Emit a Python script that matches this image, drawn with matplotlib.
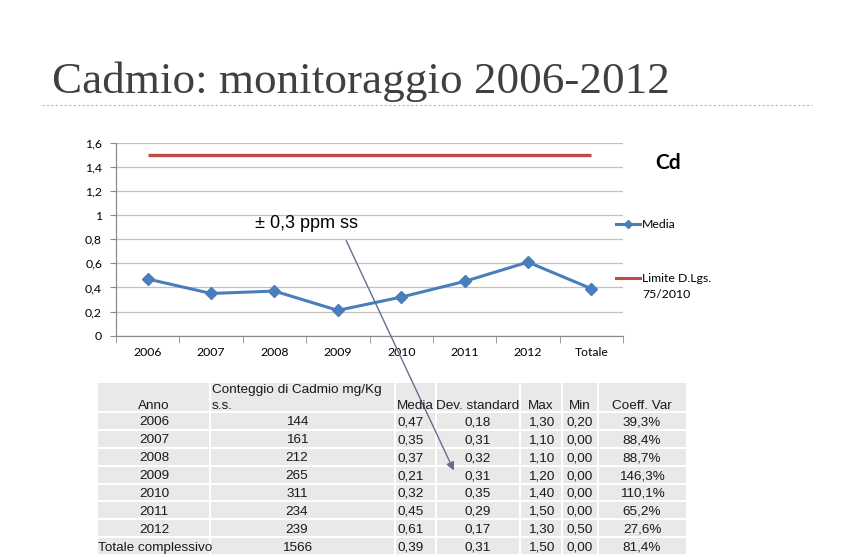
import matplotlib
matplotlib.use("Agg")
import matplotlib.pyplot as plt
from matplotlib.patches import Rectangle

# ---- data ----
categorie = ["2006", "2007", "2008", "2009", "2010", "2011", "2012", "Totale"]
media_cd = [0.47, 0.35, 0.37, 0.21, 0.32, 0.45, 0.61, 0.39]
limite_dlgs = 1.5

anni = ["2006", "2007", "2008", "2009", "2010", "2011", "2012", "Totale complessivo"]
conteggio = [144, 161, 212, 265, 311, 234, 239, 1566]
media_tab = [0.47, 0.35, 0.37, 0.21, 0.32, 0.45, 0.61, 0.39]
dev_std = [0.18, 0.31, 0.32, 0.31, 0.35, 0.29, 0.17, 0.31]
val_max = [1.30, 1.10, 1.10, 1.20, 1.40, 1.50, 1.30, 1.50]
val_min = [0.20, 0.00, 0.00, 0.00, 0.00, 0.00, 0.50, 0.00]
coeff_var = [39.3, 88.4, 88.7, 146.3, 110.1, 65.2, 27.6, 81.4]

BLUE = "#4a7ebb"
RED = "#be4b48"
GRID = "#c0c0c0"
AXIS = "#8c8c8c"
CHART_FONT = "Lato"
TABLE_FONT = "Liberation Sans"

W, H = 842, 557


def it(v, fmt="{:.2f}"):
    return fmt.format(v).replace(".", ",")


fig = plt.figure(figsize=(W / 100, H / 100), dpi=100)
fig.patch.set_facecolor("white")

# ---- chart ----
ax = fig.add_axes([116 / W, (H - 335.7) / H, (623 - 116) / W, (335.7 - 142.7) / H])
x = list(range(len(categorie)))
ax.plot(x, [limite_dlgs] * len(x), color=RED, lw=2.4, solid_capstyle="butt", zorder=3)
ax.plot(x, media_cd, color=BLUE, lw=2.2, marker="D", ms=6, mec=BLUE, mfc=BLUE, zorder=4)
ax.set_xlim(-0.5, len(x) - 0.5)
ax.set_ylim(0, 1.6)
yt = [0, 0.2, 0.4, 0.6, 0.8, 1.0, 1.2, 1.4, 1.6]
ax.set_yticks(yt)
ax.set_yticklabels([("%g" % v).replace(".", ",") for v in yt], fontsize=8.8, family=CHART_FONT)
ax.set_xticks(x)
ax.set_xticklabels(categorie, fontsize=8.8, family=CHART_FONT)
ax.set_xticks([i - 0.5 for i in range(len(x) + 1)], minor=True)
ax.tick_params(axis="x", which="major", length=0, pad=8)
ax.tick_params(axis="x", which="minor", length=5, color=AXIS, direction="out")
ax.tick_params(axis="y", length=4, color=AXIS, pad=6)
ax.grid(axis="y", color=GRID, lw=0.9)
ax.set_axisbelow(True)
for s in ["top", "right"]:
    ax.spines[s].set_visible(False)
for s in ["left", "bottom"]:
    ax.spines[s].set_color(AXIS)
    ax.spines[s].set_linewidth(0.9)

# ---- overlay in pixel coords ----
ov = fig.add_axes([0, 0, 1, 1], zorder=5)
ov.set_xlim(0, W)
ov.set_ylim(H, 0)
ov.axis("off")

ov.text(52, 82, "Cadmio: monitoraggio 2006-2012", fontsize=32.5, family="Liberation Serif",
        color="#404040", va="center", ha="left")
ov.plot([42, 812], [105, 105], ls=(0, (2, 2)), color="#b4b4b4", lw=0.8)

ov.text(655, 163, "Cd", fontsize=15, weight="bold", family=CHART_FONT, va="center", ha="left")

# legend
ov.plot([616, 640], [224, 224], color=BLUE, lw=2.2)
ov.plot([628], [224], marker="D", ms=4.5, color=BLUE)
ov.text(642, 224, "Media", fontsize=8.8, family=CHART_FONT, va="center")
ov.plot([616, 640], [278, 278], color=RED, lw=2.2)
ov.text(642, 278, "Limite D.Lgs.", fontsize=8.8, family=CHART_FONT, va="center")
ov.text(642, 294, "75/2010", fontsize=8.8, family=CHART_FONT, va="center")

# callout
ov.text(255, 224, "\u00b1 0,3 ppm ss", fontsize=13, family=TABLE_FONT, va="center", ha="left")
ov.annotate("", xy=(455, 473), xytext=(345, 238),
            arrowprops=dict(arrowstyle="-|>", color="#62708e", lw=1.0, mutation_scale=12))

# ---- table ----
col_edges = [97, 210, 395, 436, 520, 562, 598, 687]
head_top, head_bot = 381.5, 412
row_h = (555 - head_bot) / len(anni)
CELL = "#e9e9e9"

for c in range(len(col_edges) - 1):
    x0, x1 = col_edges[c], col_edges[c + 1]
    ov.add_patch(Rectangle((x0, head_top), x1 - x0, head_bot - head_top, fc=CELL, ec="white", lw=1.5, zorder=1))
    for r in range(len(anni)):
        y0 = head_bot + r * row_h
        ov.add_patch(Rectangle((x0, y0), x1 - x0, row_h, fc=CELL, ec="white", lw=1.5, zorder=1))

tk = dict(fontsize=9.7, family=TABLE_FONT, color="#1a1a1a", zorder=3)
hy = 406
ov.text(154, hy, "Anno", ha="center", va="center", **tk)
ov.text(212, hy - 16, "Conteggio di Cadmio mg/Kg", ha="left", va="center", **tk)
ov.text(212, hy, "s.s.", ha="left", va="center", **tk)
ov.text(397, hy, "Media", ha="left", va="center", **tk)
ov.text(478, hy, "Dev. standard", ha="center", va="center", **tk)
ov.text(541, hy, "Max", ha="center", va="center", **tk)
ov.text(580, hy, "Min", ha="center", va="center", **tk)
ov.text(642, hy, "Coeff. Var", ha="center", va="center", **tk)

for r, anno in enumerate(anni):
    yc = head_bot + (r + 0.5) * row_h + 1.5
    if r == len(anni) - 1:
        ov.text(98, yc, anno, ha="left", va="center", **tk)
    else:
        ov.text(154, yc, anno, ha="center", va="center", **tk)
    ov.text(297, yc, str(conteggio[r]), ha="center", va="center", **tk)
    ov.text(398, yc, it(media_tab[r]), ha="left", va="center", **tk)
    ov.text(478, yc, it(dev_std[r]), ha="center", va="center", **tk)
    ov.text(541, yc, it(val_max[r]), ha="center", va="center", **tk)
    ov.text(580, yc, it(val_min[r]), ha="center", va="center", **tk)
    ov.text(642, yc, it(coeff_var[r], "{:.1f}") + "%", ha="center", va="center", **tk)

fig.savefig("out.png", dpi=100, facecolor="white")
